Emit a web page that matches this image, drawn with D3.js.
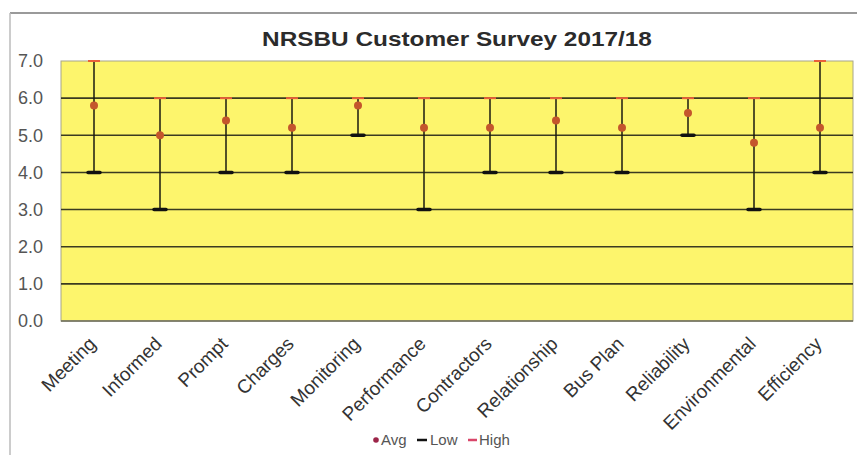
<!DOCTYPE html>
<html lang="en">
<head>
<meta charset="UTF-8">
<title>NRSBU Customer Survey 2017/18</title>
<script src="https://d3js.org/d3.v7.min.js"></script>
<style>
    body { margin: 0; background: #fff; font-family: Arial, "Liberation Sans", sans-serif; }
    svg { display: block; }
</style>
</head>
<body>
<div id="chart"></div>
<script>
const categories = ["Meeting", "Informed", "Prompt", "Charges", "Monitoring", "Performance",
    "Contractors", "Relationship", "Bus Plan", "Reliability", "Environmental", "Efficiency"];
const avgValues = [5.8, 5.0, 5.4, 5.2, 5.8, 5.2, 5.2, 5.4, 5.2, 5.6, 4.8, 5.2];
const lowValues = [4, 3, 4, 4, 5, 3, 4, 4, 4, 5, 3, 4];
const highValues = [7, 6, 6, 6, 6, 6, 6, 6, 6, 6, 6, 7];
const yTicks = [0, 1, 2, 3, 4, 5, 6, 7];

const width = 857, height = 455;
const margin = {top: 61, right: 4, bottom: 134, left: 61};

const svg = d3.select("#chart").append("svg")
    .attr("width", width)
    .attr("height", height);

// outer frame
svg.append("line").attr("x1", 10).attr("x2", width).attr("y1", 13).attr("y2", 13)
    .attr("stroke", "#9a9a9a").attr("stroke-width", 2);
svg.append("line").attr("x1", 10).attr("x2", 10).attr("y1", 13).attr("y2", height)
    .attr("stroke", "#bbb").attr("stroke-width", 1.5);

const x = d3.scaleBand().domain(categories)
    .range([margin.left, width - margin.right]);
const y = d3.scaleLinear().domain([0, 7])
    .range([height - margin.bottom, margin.top]);

// plot background
svg.append("rect")
    .attr("x", margin.left).attr("y", margin.top)
    .attr("width", width - margin.left - margin.right)
    .attr("height", y(0) - y(7))
    .attr("fill", "#fdf56c")
    .attr("stroke", "#a8a68a").attr("stroke-width", 1);

// gridlines
svg.append("g").selectAll("line")
    .data(yTicks.filter(d => d > 0 && d < 7))
    .join("line")
    .attr("x1", margin.left).attr("x2", width - margin.right)
    .attr("y1", d => y(d)).attr("y2", d => y(d))
    .attr("stroke", "#3a3a20").attr("stroke-width", 1.6);

svg.append("line")
    .attr("x1", margin.left).attr("x2", width - margin.right)
    .attr("y1", y(0)).attr("y2", y(0))
    .attr("stroke", "#6a6a5a").attr("stroke-width", 1.6);

// y axis labels
svg.append("g").selectAll("text")
    .data(yTicks)
    .join("text")
    .attr("x", 43).attr("y", d => y(d))
    .attr("dy", "0.35em")
    .attr("text-anchor", "end")
    .attr("font-size", 18)
    .attr("fill", "#555")
    .text(d => d.toFixed(1));

// x axis labels
svg.append("g").selectAll("text")
    .data(categories)
    .join("text")
    .attr("transform", d => `translate(${x(d) + x.bandwidth() / 2 + 3},${y(0) + 24}) rotate(-45)`)
    .attr("text-anchor", "end")
    .attr("font-size", 19)
    .attr("fill", "#333")
    .text(d => d);

const cx = d => x(d) + x.bandwidth() / 2;

// high-low lines
svg.append("g").selectAll("line")
    .data(categories)
    .join("line")
    .attr("x1", cx).attr("x2", cx)
    .attr("y1", (d, i) => y(lowValues[i]))
    .attr("y2", (d, i) => y(highValues[i]))
    .attr("stroke", "#1a1a10").attr("stroke-width", 1.5);

// low markers
svg.append("g").selectAll("line")
    .data(categories)
    .join("line")
    .attr("x1", d => cx(d) - 6).attr("x2", d => cx(d) + 6)
    .attr("y1", (d, i) => y(lowValues[i]))
    .attr("y2", (d, i) => y(lowValues[i]))
    .attr("stroke", "#111").attr("stroke-width", 3.5)
    .attr("stroke-linecap", "round");

// high markers
svg.append("g").selectAll("line")
    .data(categories)
    .join("line")
    .attr("x1", d => cx(d) - 6).attr("x2", d => cx(d) + 6)
    .attr("y1", (d, i) => y(highValues[i]))
    .attr("y2", (d, i) => y(highValues[i]))
    .attr("stroke", "#e8603a").attr("stroke-width", 2);

// avg points
svg.append("g").selectAll("circle")
    .data(categories)
    .join("circle")
    .attr("cx", cx)
    .attr("cy", (d, i) => y(avgValues[i]))
    .attr("r", 4)
    .attr("fill", "#c4562c");

// title (slightly stretched, like the original)
svg.append("text")
    .attr("transform", "translate(457,46) scale(1.16,1)")
    .attr("text-anchor", "middle")
    .attr("font-size", 21)
    .attr("font-weight", "bold")
    .attr("fill", "#2b2b2b")
    .text("NRSBU Customer Survey 2017/18");

// legend
const legend = svg.append("g").attr("transform", "translate(373,440)");
legend.append("circle").attr("cx", 3).attr("cy", 0).attr("r", 2.8).attr("fill", "#9c2448");
legend.append("text").attr("x", 8).attr("y", 0).attr("dy", "0.35em")
    .attr("font-size", 15).attr("fill", "#555").text("Avg");
legend.append("line").attr("x1", 44).attr("x2", 54).attr("y1", 0).attr("y2", 0)
    .attr("stroke", "#111").attr("stroke-width", 2.5);
legend.append("text").attr("x", 57).attr("y", 0).attr("dy", "0.35em")
    .attr("font-size", 15).attr("fill", "#555").text("Low");
legend.append("line").attr("x1", 95).attr("x2", 104).attr("y1", 0).attr("y2", 0)
    .attr("stroke", "#d9466a").attr("stroke-width", 2.5);
legend.append("text").attr("x", 106).attr("y", 0).attr("dy", "0.35em")
    .attr("font-size", 15).attr("fill", "#555").text("High");
</script>
</body>
</html>
